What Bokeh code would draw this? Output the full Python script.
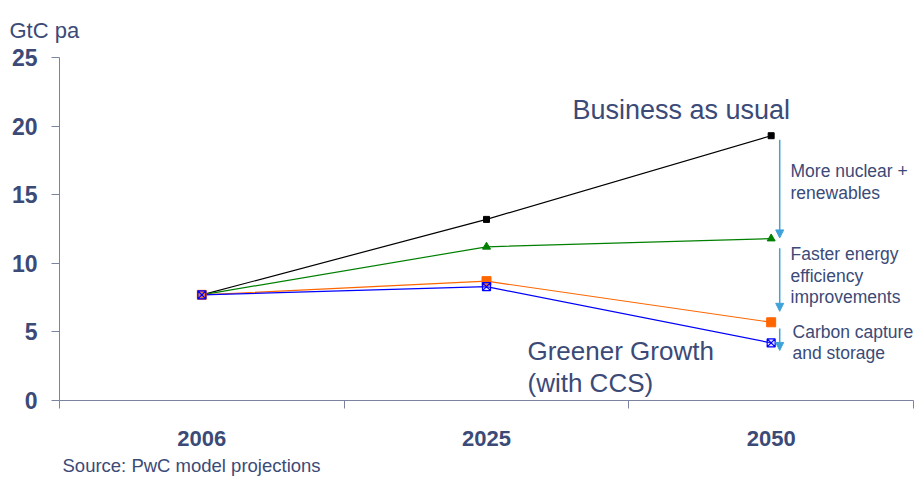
from bokeh.plotting import figure
from bokeh.models import (Range1d, FixedTicker, Label, Arrow, NormalHead, Title)
from bokeh.embed import file_html
from bokeh.resources import INLINE

# ---- data ----
years = ["2006", "2025", "2050"]
business_as_usual = [7.7, 13.2, 19.3]
nuclear_renewables = [7.7, 11.2, 11.8]
energy_efficiency = [7.7, 8.7, 5.7]
greener_growth = [7.7, 8.3, 4.2]
y_ticks = [0, 5, 10, 15, 20, 25]

TEXT = "#3B4A77"
AXIS = "#7C839E"
ARROW = "#3FA3DA"
FONT = "Liberation Sans"

xs = [i + 0.5 for i in range(len(years))]

p = figure(width=920, height=481, output_backend="svg", toolbar_location=None,
           x_range=Range1d(0, len(years)), y_range=Range1d(0, 25),
           min_border_left=59, min_border_right=7, min_border_top=57,
           min_border_bottom=81, outline_line_color=None)
p.grid.visible = False
p.background_fill_color = "white"
p.border_fill_color = "white"

# y axis
ya = p.yaxis[0]
ya.ticker = FixedTicker(ticks=y_ticks)
ya.axis_line_color = AXIS
ya.major_tick_line_color = AXIS
ya.major_tick_out = 8
ya.major_tick_in = 0
ya.minor_tick_line_color = None
ya.major_label_text_font = FONT
ya.major_label_text_font_style = "bold"
ya.major_label_text_font_size = "23px"
ya.major_label_text_color = TEXT
ya.major_label_standoff = 14

# x axis: labels at category centers, ticks at category boundaries
xa = p.xaxis[0]
xa.ticker = FixedTicker(ticks=xs, minor_ticks=list(range(len(years) + 1)))
xa.major_label_overrides = {x: y for x, y in zip(xs, years)}
xa.axis_line_color = AXIS
xa.major_tick_out = 0
xa.major_tick_in = 0
xa.major_tick_line_color = None
xa.minor_tick_line_color = AXIS
xa.minor_tick_out = 8
xa.minor_tick_in = 0
xa.major_label_text_font = FONT
xa.major_label_text_font_style = "bold"
xa.major_label_text_font_size = "22px"
xa.major_label_text_color = TEXT
xa.major_label_standoff = 22

# unit label above and source below
p.add_layout(Title(text="GtC pa", align="left", offset=-50, standoff=30,
                   text_font=FONT, text_font_size="22px",
                   text_font_style="normal", text_color=TEXT), "above")
p.add_layout(Title(text="Source: PwC model projections", align="left", offset=3,
                   standoff=9, text_font=FONT, text_font_size="18.5px",
                   text_font_style="normal", text_color=TEXT), "below")

# lines
p.line(xs, business_as_usual, line_color="black", line_width=1.2)
p.line(xs, nuclear_renewables, line_color="#008000", line_width=1.2)
p.line(xs, energy_efficiency, line_color="#FF6600", line_width=1.2)
p.line(xs, greener_growth, line_color="#0000FF", line_width=1.2)

# markers
p.scatter(xs, business_as_usual, marker="square", size=6, color="black")
p.scatter(xs, nuclear_renewables, marker="triangle", size=8, color="#008000")
p.scatter(xs, energy_efficiency, marker="square", size=9, color="#FF6600")
p.scatter(xs, greener_growth, marker="square_x", size=8, line_color="#0000FF",
          fill_color="#9999FF", fill_alpha=0.25, line_width=1.2)

# arrows at 2050
ax = xs[2] + 0.03
arrow_segments = [
    (business_as_usual[2] - 0.3, nuclear_renewables[2] + 0.05),
    (nuclear_renewables[2] - 0.7, energy_efficiency[2] + 0.8),
    (energy_efficiency[2] - 0.45, greener_growth[2] - 0.55),
]
for y0, y1 in arrow_segments:
    p.add_layout(Arrow(x_start=ax, y_start=y0, x_end=ax, y_end=y1,
                       line_color=ARROW, line_width=1.5,
                       end=NormalHead(size=8, fill_color=ARROW, line_color=ARROW)))

def lab(x, y, text, size, style="normal"):
    p.add_layout(Label(x=x, y=y, text=text, text_font=FONT,
                       text_font_size=size, text_font_style=style,
                       text_color=TEXT, text_baseline="middle", text_align="left"))

lab(1.802, 21.14, "Business as usual", "27px")
lab(1.644, 3.64, "Greener Growth", "26px")
lab(1.644, 1.31, "(with CCS)", "26px")
lab(2.568, 16.76, "More nuclear +", "17.5px")
lab(2.568, 15.16, "renewables", "17.5px")
lab(2.568, 10.71, "Faster energy", "17.5px")
lab(2.568, 9.04, "efficiency", "17.5px")
lab(2.568, 7.51, "improvements", "17.5px")
lab(2.575, 4.96, "Carbon capture", "17.5px")
lab(2.575, 3.43, "and storage", "17.5px")

open("out.html", "w").write(file_html(p, INLINE))
